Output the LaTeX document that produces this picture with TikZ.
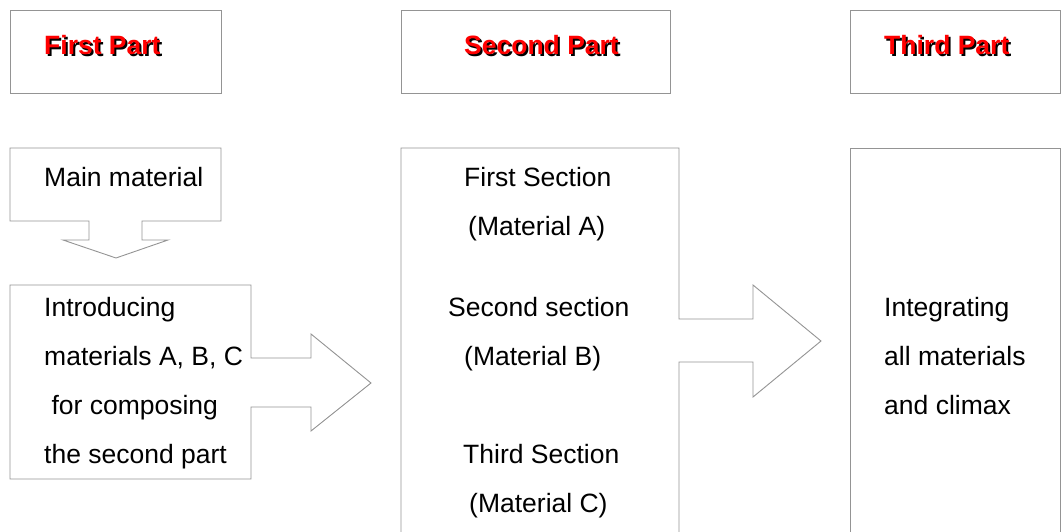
\documentclass[tikz,border=0pt]{standalone}
\usepackage{fontspec}
\setmainfont{Liberation Sans}
\begin{document}
\begin{tikzpicture}[x=1pt,y=-1pt,
  outline/.style={draw=black!42,line width=0.9pt,line join=miter},
  body/.style={font=\fontsize{26.5}{30}\selectfont,anchor=base west,inner sep=0pt,text=black},
  title/.style={font=\fontsize{26.5}{30}\selectfont\bfseries,anchor=base west,inner sep=0pt,text=red},
  tshadow/.style={title,text=black}]
\clip (0,0) rectangle (1061,532);
\fill[white] (0,0) rectangle (1061,532);
% title boxes
\draw[outline] (10,10) rectangle (221,93);
\draw[outline] (401,10) rectangle (670,93);
\draw[outline] (850,10) rectangle (1060,93);
% callout: main material
\draw[outline] (10,148) -- (221,148) -- (221,221) -- (142,221) -- (142,240) -- (168,240)
  -- (116,258) -- (63,240) -- (89,240) -- (89,221) -- (10,221) -- cycle;
% callout: introducing
\draw[outline] (10,285) -- (251,285) -- (251,358) -- (311,358) -- (311,334) -- (371,383)
  -- (311,431) -- (311,407) -- (251,407) -- (251,479) -- (10,479) -- cycle;
% callout: second part
\draw[outline] (401,545) -- (401,148) -- (679,148) -- (679,319) -- (753,319) -- (753,285)
  -- (821,341) -- (753,397) -- (753,362) -- (679,362) -- (679,545);
% third part body
\draw[outline] (850,545) -- (850,148) -- (1060,148) -- (1060,545);
% titles
\node[tshadow] (t1s) at (46,57) {First Part};
\node[title]   (t1)  at (44,55) {First Part};
\node[tshadow] (t2s) at (466,57) {Second Part};
\node[title]   (t2)  at (464,55) {Second Part};
\node[tshadow] (t3s) at (886,57) {Third Part};
\node[title]   (t3)  at (884,55) {Third Part};
% first column
\node[body] (m1) at (44,186) {Main material};
\node[body] (i1) at (44,316) {Introducing};
\node[body] (i2) at (44,365) {materials A, B, C};
\node[body] (i3) at (44,414) {\ for composing};
\node[body] (i4) at (44,463) {the second part};
% second column
\node[body] (s1) at (464,186) {First Section};
\node[body] (s2) at (468,235) {(Material A)};
\node[body] (s3) at (448,316) {Second section};
\node[body] (s4) at (464,365) {(Material B)};
\node[body] (s5) at (463,463) {Third Section};
\node[body] (s6) at (469,512) {(Material C)};
% third column
\node[body] (c1) at (884,316) {Integrating};
\node[body] (c2) at (884,365) {all materials};
\node[body] (c3) at (884,414) {and climax};
\end{tikzpicture}
\end{document}
